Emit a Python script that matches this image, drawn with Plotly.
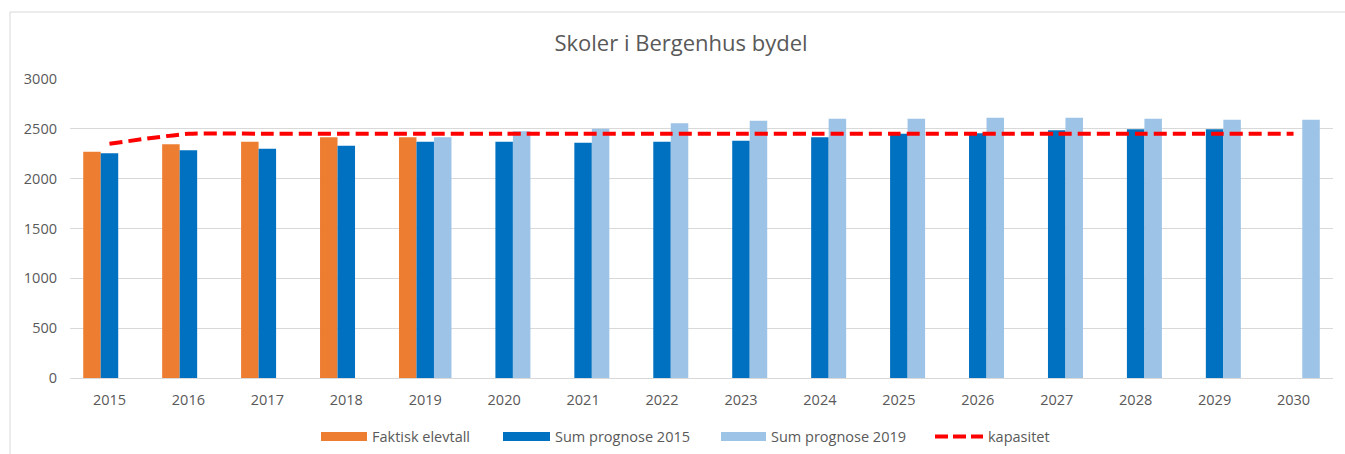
import plotly.graph_objects as go

years = ["2015", "2016", "2017", "2018", "2019", "2020", "2021", "2022",
         "2023", "2024", "2025", "2026", "2027", "2028", "2029", "2030"]
faktisk = [2270, 2345, 2370, 2415, 2415, None, None, None,
           None, None, None, None, None, None, None, None]
prognose_2015 = [2255, 2285, 2300, 2330, 2370, 2370, 2360, 2370,
                 2380, 2415, 2450, 2455, 2485, 2495, 2495, None]
prognose_2019 = [None, None, None, None, 2415, 2475, 2500, 2555,
                 2580, 2600, 2600, 2610, 2610, 2600, 2590, 2590]
kapasitet = [2350, 2450, 2450, 2450, 2450, 2450, 2450, 2450,
             2450, 2450, 2450, 2450, 2450, 2450, 2450, 2450]
series_names = ["Faktisk elevtall", "Sum prognose 2015", "Sum prognose 2019", "kapasitet"]

C_OR = "#ED7D31"
C_BL = "#0070C0"
C_LB = "#9DC3E6"
C_RED = "#FF0000"
TXT = "#595959"
GRID = "#D9D9D9"
FONT = "Open Sans"

W, H = 1345, 454
L, R, T, B = 70, 12, 79, 76
PW = W - L - R
PH = H - T - B


def px(x):
    return (x - L) / PW


def py(y):
    return (H - B - y) / PH


fig = go.Figure()
fig.add_trace(go.Bar(x=years, y=faktisk, name=series_names[0], marker_color=C_OR,
                     marker_line_width=0, showlegend=False))
fig.add_trace(go.Bar(x=years, y=prognose_2015, name=series_names[1], marker_color=C_BL,
                     marker_line_width=0, showlegend=False))
fig.add_trace(go.Bar(x=years, y=prognose_2019, name=series_names[2], marker_color=C_LB,
                     marker_line_width=0, showlegend=False))
fig.add_trace(go.Scatter(x=years, y=kapasitet, name=series_names[3], mode="lines",
                         line=dict(color=C_RED, width=4, dash="13px,6px", shape="spline",
                                   smoothing=0.6),
                         showlegend=False))

shapes = [
    dict(type="rect", xref="paper", yref="paper", x0=px(10), x1=px(1360),
         y0=py(470), y1=py(12), line=dict(color=GRID, width=1), fillcolor="rgba(0,0,0,0)",
         layer="below"),
]
annotations = []

# manual legend (Excel style wide swatches)
legend_items = [
    (series_names[0], C_OR, 321, 367, "bar"),
    (series_names[1], C_BL, 503, 550, "bar"),
    (series_names[2], C_LB, 721, 766, "bar"),
    (series_names[3], C_RED, 935, 983, "line"),
]
ly = 436.5
for name, col, x0, x1, kind in legend_items:
    if kind == "bar":
        shapes.append(dict(type="rect", xref="paper", yref="paper", x0=px(x0), x1=px(x1),
                           y0=py(ly + 4.5), y1=py(ly - 4.5), fillcolor=col,
                           line=dict(width=0)))
    else:
        shapes.append(dict(type="line", xref="paper", yref="paper", x0=px(x0), x1=px(x1),
                           y0=py(ly), y1=py(ly), line=dict(color=col, width=4, dash="13px,5px")))
    annotations.append(dict(text=name, xref="paper", yref="paper", x=px(x1 + 3), y=py(ly),
                            xanchor="left", yanchor="middle", showarrow=False,
                            font=dict(family=FONT, size=14.5, color=TXT)))

fig.update_layout(
    width=W, height=H,
    margin=dict(l=L, r=R, t=T, b=B),
    paper_bgcolor="white", plot_bgcolor="white",
    barmode="group", bargap=0.335, bargroupgap=0,
    title=dict(text="Skoler i Bergenhus bydel", x=681 / W, xanchor="center",
               y=1 - 43 / H, yanchor="middle", xref="container", yref="container",
               font=dict(family=FONT, size=22, color=TXT)),
    font=dict(family=FONT, size=14.5, color=TXT),
    showlegend=False,
    shapes=shapes,
    annotations=annotations,
)
fig.update_xaxes(type="category", showgrid=False, showline=False, ticks="",
                 tickfont=dict(family=FONT, size=14.5, color=TXT), ticklabelstandoff=11)
fig.update_yaxes(range=[0, 3000], dtick=500, showgrid=True, gridcolor=GRID, gridwidth=1,
                 zeroline=True, zerolinecolor=GRID, zerolinewidth=1, showline=False, ticks="",
                 tickfont=dict(family=FONT, size=14.5, color=TXT), ticklabelstandoff=12)

fig.write_html("out.html", config={"displayModeBar": False},
               post_script="document.body.style.margin='0';document.body.style.overflow='hidden';")
